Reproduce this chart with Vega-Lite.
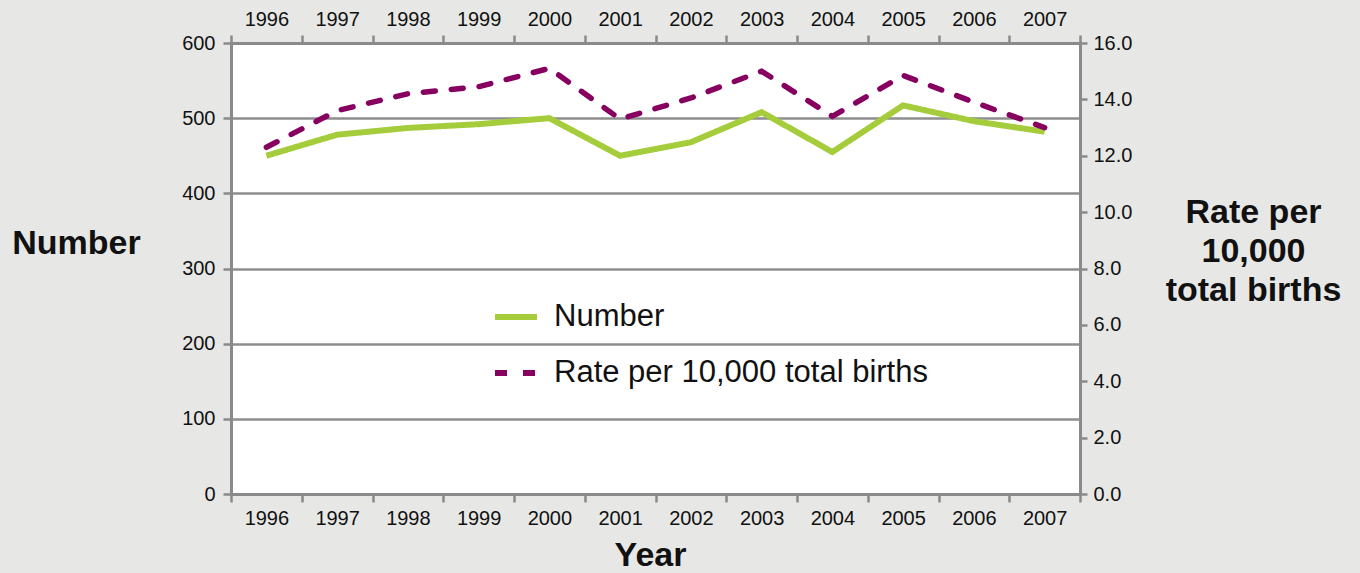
{
  "$schema": "https://vega.github.io/schema/vega-lite/v6.json",
  "width": 849,
  "height": 451,
  "autosize": {"type": "none"},
  "padding": {"left": 231, "top": 43, "right": 280, "bottom": 79},
  "background": "#e7e8e6",
  "config": {
    "font": "Liberation Sans, Arial, Helvetica, sans-serif",
    "view": {"fill": "white", "stroke": null},
    "axis": {
      "domainColor": "#8a8a8a", "domainWidth": 3,
      "tickColor": "#8a8a8a", "tickWidth": 2.5, "tickSize": 8,
      "labelColor": "#111111", "labelFontSize": 20, "labelFont": "Liberation Sans, Arial, Helvetica, sans-serif",
      "titleFont": "Liberation Sans, Arial, Helvetica, sans-serif", "titleFontSize": 34, "titleFontWeight": "bold", "titleColor": "#111111",
      "gridColor": "#8e8e8e", "gridWidth": 2.5, "gridOpacity": 1
    },
    "legend": {
      "orient": "none", "legendX": 261, "legendY": 250, "padding": 0,
      "symbolType": "stroke", "symbolSize": 1764, "symbolStrokeWidth": 6,
      "labelFont": "Liberation Sans, Arial, Helvetica, sans-serif",
      "labelFontSize": 31, "labelColor": "#111111", "labelOffset": 14, "rowPadding": 17,
      "labelLimit": 600
    }
  },
  "data": {
    "values": [
      {"year": "1996", "series": "Number", "value": 450},
      {"year": "1997", "series": "Number", "value": 478},
      {"year": "1998", "series": "Number", "value": 487},
      {"year": "1999", "series": "Number", "value": 492},
      {"year": "2000", "series": "Number", "value": 500},
      {"year": "2001", "series": "Number", "value": 450},
      {"year": "2002", "series": "Number", "value": 468},
      {"year": "2003", "series": "Number", "value": 508},
      {"year": "2004", "series": "Number", "value": 455},
      {"year": "2005", "series": "Number", "value": 517},
      {"year": "2006", "series": "Number", "value": 496},
      {"year": "2007", "series": "Number", "value": 482},
      {"year": "1996", "series": "Rate per 10,000 total births", "value": 12.3},
      {"year": "1997", "series": "Rate per 10,000 total births", "value": 13.6},
      {"year": "1998", "series": "Rate per 10,000 total births", "value": 14.2},
      {"year": "1999", "series": "Rate per 10,000 total births", "value": 14.45},
      {"year": "2000", "series": "Rate per 10,000 total births", "value": 15.1},
      {"year": "2001", "series": "Rate per 10,000 total births", "value": 13.3},
      {"year": "2002", "series": "Rate per 10,000 total births", "value": 14.05},
      {"year": "2003", "series": "Rate per 10,000 total births", "value": 15.0},
      {"year": "2004", "series": "Rate per 10,000 total births", "value": 13.4},
      {"year": "2005", "series": "Rate per 10,000 total births", "value": 14.85},
      {"year": "2006", "series": "Rate per 10,000 total births", "value": 13.9},
      {"year": "2007", "series": "Rate per 10,000 total births", "value": 13.0}
    ]
  },
  "layer": [
    {
      "transform": [{"filter": "datum.series === 'Number'"}],
      "mark": {"type": "line", "strokeWidth": 6},
      "encoding": {
        "x": {
          "field": "year", "type": "ordinal",
          "scale": {"type": "band", "paddingInner": 0, "paddingOuter": 0},
          "axis": {"orient": "bottom", "title": "Year", "labelAngle": 0, "tickBand": "extent", "labelPadding": 6, "titleX": 419, "titleY": 61, "titleBaseline": "middle"}
        },
        "y": {
          "field": "value", "type": "quantitative",
          "scale": {"domain": [0, 600], "nice": false, "zero": true},
          "axis": {"orient": "left", "values": [0, 100, 200, 300, 400, 500, 600], "grid": true, "labelPadding": 8,
                   "title": "Number", "titleAngle": 0, "titleAlign": "center", "titleBaseline": "middle", "titleX": -155, "titleY": 200}
        },
        "color": {
          "field": "series", "type": "nominal",
          "scale": {"domain": ["Number", "Rate per 10,000 total births"], "range": ["#a5cc3a", "#870060"]},
          "legend": {"title": null}
        },
        "strokeDash": {
          "field": "series", "type": "nominal",
          "scale": {"domain": ["Number", "Rate per 10,000 total births"], "range": [[1, 0], [12, 16]]},
          "legend": {"title": null}
        }
      }
    },
    {
      "transform": [{"filter": "datum.series !== 'Number'"}],
      "mark": {"type": "line", "strokeWidth": 5.5, "strokeCap": "round"},
      "encoding": {
        "x": {
          "field": "year", "type": "ordinal",
          "scale": {"type": "band", "paddingInner": 0, "paddingOuter": 0},
          "axis": {"orient": "top", "title": null, "labelAngle": 0, "tickBand": "extent", "labelPadding": 6}
        },
        "y": {
          "field": "value", "type": "quantitative",
          "scale": {"domain": [0, 16], "nice": false, "zero": true},
          "axis": {"orient": "right", "values": [0, 2, 4, 6, 8, 10, 12, 14, 16], "format": ".1f", "grid": false,
                   "tickSize": 7, "labelPadding": 6,
                   "title": ["Rate per", "10,000", "total births"], "titleAngle": 0, "titleAlign": "center",
                   "titleBaseline": "middle", "titleX": 173, "titleY": 169, "titleLineHeight": 39}
        },
        "color": {
          "field": "series", "type": "nominal",
          "scale": {"domain": ["Number", "Rate per 10,000 total births"], "range": ["#a5cc3a", "#870060"]},
          "legend": {"title": null}
        },
        "strokeDash": {
          "field": "series", "type": "nominal",
          "scale": {"domain": ["Number", "Rate per 10,000 total births"], "range": [[1, 0], [12, 16]]},
          "legend": {"title": null}
        }
      }
    }
  ],
  "resolve": {"scale": {"y": "independent"}, "axis": {"x": "independent", "y": "independent"}}
}
